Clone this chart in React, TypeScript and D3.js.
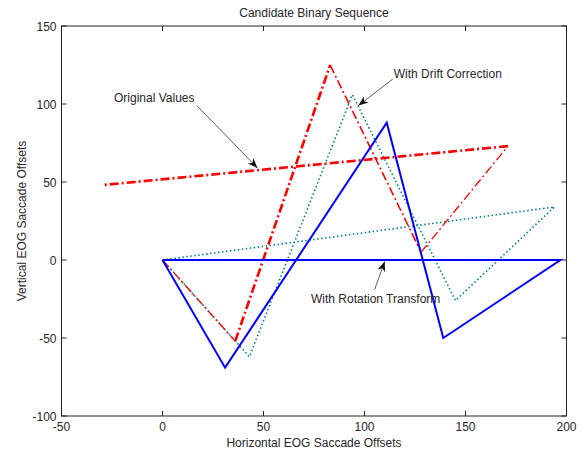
import React from "react";
import * as d3 from "d3";

const xTicks = [-50, 0, 50, 100, 150, 200];
const yTicks = [-100, -50, 0, 50, 100, 150];

const originalX = [0, 36, 83, 128, 171, -30];
const originalY = [0, -52, 125, 5, 73, 48];

const driftX = [0, 43, 94, 145, 194, 0];
const driftY = [0, -62, 106, -26, 34, 0];

const rotationX = [0, 31, 111, 139, 197, 0];
const rotationY = [0, -69, 88, -50, 0, 0];

const titleText = "Candidate Binary Sequence";
const xLabelText = "Horizontal EOG Saccade Offsets";
const yLabelText = "Vertical EOG Saccade Offsets";

// annotation: text, text position (data), arrow start (data), arrow tip (data)
const annTexts = ["Original Values", "With Drift Correction", "With Rotation Transform"];
const annTextX = [-24, 114.5, 73.5];
const annTextY = [101.5, 116.5, -27.5];
const annFromX = [17, 114, 105];
const annFromY = [99, 116, -19];
const annToX = [47, 97, 110];
const annToY = [59, 99, -1];

const W = 582;
const H = 455;
const L = 61.5;
const R = 566.5;
const T = 26;
const B = 416;

const redWidths = [1.3, 2.6, 1.6, 1.3, 2.6];

export default function App() {
  const x = d3.scaleLinear().domain([-50, 200]).range([L, R]);
  const y = d3.scaleLinear().domain([-100, 150]).range([B, T]);
  const line = d3
    .line<[number, number]>()
    .x((d) => x(d[0]))
    .y((d) => y(d[1]));

  const pts = (xs: number[], ys: number[]) => xs.map((v, i) => [v, ys[i]] as [number, number]);
  const orig = pts(originalX, originalY);
  const drift = pts(driftX, driftY);
  const rot = pts(rotationX, rotationY);

  const font = "'Liberation Sans', Arial, sans-serif";
  const tc = "#262626";

  const arrowHead = (x1: number, y1: number, x2: number, y2: number) => {
    const ang = Math.atan2(y2 - y1, x2 - x1);
    const len = 10;
    const hw = 4;
    const back = 7;
    const bx = x2 - len * Math.cos(ang);
    const by = y2 - len * Math.sin(ang);
    const nx = -Math.sin(ang);
    const ny = Math.cos(ang);
    const mx = x2 - back * Math.cos(ang);
    const my = y2 - back * Math.sin(ang);
    return `M${x2},${y2} L${bx + nx * hw},${by + ny * hw} L${mx},${my} L${bx - nx * hw},${by - ny * hw} Z`;
  };

  return (
    <svg
      width={W}
      height={H}
      style={{ position: "absolute", left: 0, top: 0, background: "#fff" }}
      fontFamily={font}
    >
      <rect x={0} y={0} width={W} height={H} fill="#fff" />
      {/* box */}
      <rect x={L} y={T} width={R - L} height={B - T} fill="none" stroke="#222" strokeWidth={1} />
      {xTicks.map((t) => (
        <g key={"xt" + t}>
          <line x1={x(t)} x2={x(t)} y1={B} y2={B - 5} stroke="#222" />
          <line x1={x(t)} x2={x(t)} y1={T} y2={T + 5} stroke="#222" />
          <text x={x(t)} y={B + 15} fontSize={12} textAnchor="middle" fill={tc}>
            {t}
          </text>
        </g>
      ))}
      {yTicks.map((t) => (
        <g key={"yt" + t}>
          <line x1={L} x2={L + 5} y1={y(t)} y2={y(t)} stroke="#222" />
          <line x1={R} x2={R - 5} y1={y(t)} y2={y(t)} stroke="#222" />
          <text x={L - 5} y={y(t) + 4.5} fontSize={12} textAnchor="end" fill={tc}>
            {t}
          </text>
        </g>
      ))}

      {/* drift corrected (teal dotted) */}
      <path d={line(drift) || ""} fill="none" stroke="#008080" strokeWidth={1.6} strokeDasharray="1.5,2.5" />

      {/* original values (red dash-dot) */}
      {orig.slice(0, -1).map((p, i) => (
        <path
          key={"o" + i}
          d={line([p, orig[i + 1]]) || ""}
          fill="none"
          stroke="#ff0000"
          strokeWidth={redWidths[i]}
          strokeDasharray="9,3,2,3"
        />
      ))}

      {/* rotation transform (blue solid) */}
      <path d={line(rot) || ""} fill="none" stroke="#0000ff" strokeWidth={2} strokeLinejoin="miter" />

      {/* annotations */}
      {annTexts.map((s, i) => {
        const x1 = x(annFromX[i]);
        const y1 = y(annFromY[i]);
        const x2 = x(annToX[i]);
        const y2 = y(annToY[i]);
        return (
          <g key={"a" + i}>
            <text x={x(annTextX[i])} y={y(annTextY[i])} fontSize={12} fill={tc}>
              {s}
            </text>
            <line x1={x1} y1={y1} x2={x2} y2={y2} stroke="#333" strokeWidth={0.8} />
            <path d={arrowHead(x1, y1, x2, y2)} fill="#111" />
          </g>
        );
      })}

      <text x={(L + R) / 2} y={17} fontSize={12} textAnchor="middle" fill={tc}>
        {titleText}
      </text>
      <text x={(L + R) / 2} y={447} fontSize={12} textAnchor="middle" fill={tc}>
        {xLabelText}
      </text>
      <text
        transform={`translate(26,${(T + B) / 2}) rotate(-90)`}
        fontSize={12}
        textAnchor="middle"
        fill={tc}
      >
        {yLabelText}
      </text>
    </svg>
  );
}
